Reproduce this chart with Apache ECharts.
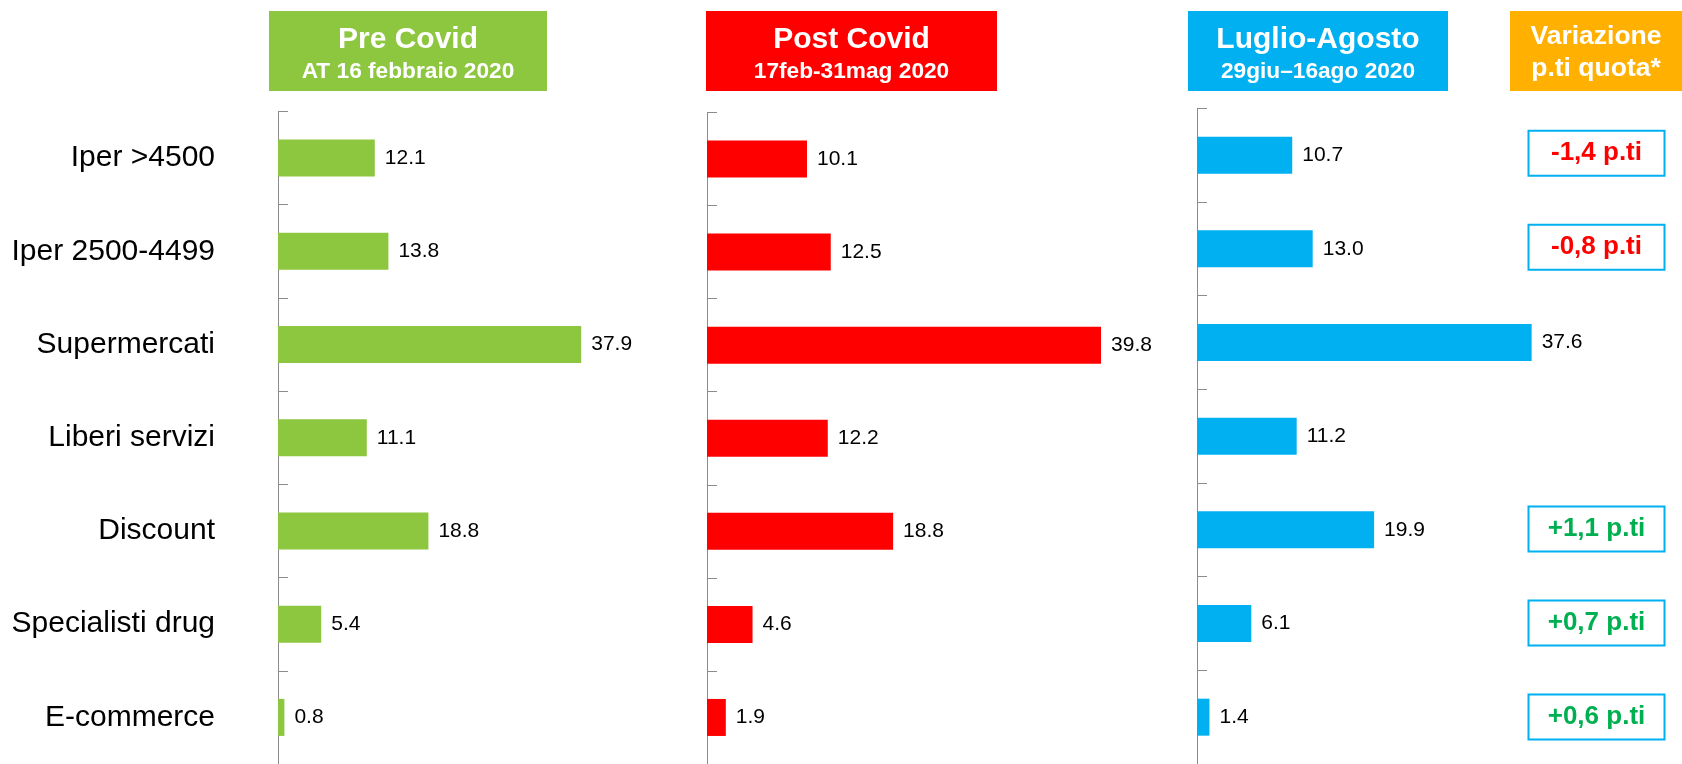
<!DOCTYPE html>
<html>
<head>
<meta charset="utf-8">
<title>Quote canali</title>
<script src="https://cdn.jsdelivr.net/npm/echarts@6/dist/echarts.min.js"></script>
<style>
  html, body { margin: 0; padding: 0; background: #fff; }
  #chart { width: 1682px; height: 764px; }
</style>
</head>
<body>
<div id="chart"></div>
<script>
// canali
const categories = ['Iper >4500', 'Iper 2500-4499', 'Supermercati', 'Liberi servizi', 'Discount', 'Specialisti drug', 'E-commerce']

// quote per periodo
const preCovid = [12.1, 13.8, 37.9, 11.1, 18.8, 5.4, 0.8]
const postCovid = [10.1, 12.5, 39.8, 12.2, 18.8, 4.6, 1.9]
const luglioAgosto = [10.7, 13.0, 37.6, 11.2, 19.9, 6.1, 1.4]

// variazione punti quota (null = nessun box)
const variazione = [-1.4, -0.8, null, null, 1.1, 0.7, 0.6]

const headers = [
  { line1: 'Pre Covid', line2: 'AT 16 febbraio 2020', color: '#8DC63F', x: 269, w: 278 },
  { line1: 'Post Covid', line2: '17feb-31mag 2020', color: '#FF0000', x: 706, w: 291 },
  { line1: 'Luglio-Agosto', line2: '29giu–16ago 2020', color: '#00B0F0', x: 1188, w: 260 },
  { line1: 'Variazione', line2: 'p.ti quota*', color: '#FFB000', x: 1510, w: 172, small: true }
]

const FONT = '"Liberation Sans", Arial, sans-serif'
const AXIS_GRAY = '#8c8c8c'

const fmtVar = (v) => (v > 0 ? '+' : '-') + Math.abs(v).toFixed(1).replace('.', ',') + ' p.ti'

const chart = echarts.init(document.getElementById('chart'))

const catAxis = (gridIndex, showLabel) => ({
  type: 'category',
  gridIndex,
  inverse: true,
  data: categories,
  axisLine: { show: gridIndex < 3, lineStyle: { color: AXIS_GRAY, width: 1 } },
  axisTick: { show: gridIndex < 3, inside: true, length: 10, lineStyle: { color: AXIS_GRAY } },
  axisLabel: {
    show: showLabel,
    margin: 63,
    color: '#000',
    fontSize: 30,
    fontFamily: FONT
  },
  splitLine: { show: false }
})

const valAxis = (gridIndex, max) => ({
  type: 'value',
  gridIndex,
  min: 0,
  max,
  show: false
})

const barSeries = (idx, data, color) => ({
  type: 'bar',
  xAxisIndex: idx,
  yAxisIndex: idx,
  data,
  barWidth: 37,
  itemStyle: { color },
  label: {
    show: true,
    position: 'right',
    distance: 10,
    color: '#000',
    fontSize: 21,
    fontFamily: FONT,
    formatter: (p) => p.value.toFixed(1)
  },
  silent: true
})

const graphics = []
headers.forEach((h) => {
  graphics.push({
    type: 'rect',
    shape: { x: h.x, y: 11, width: h.w, height: 80 },
    style: { fill: h.color }
  })
  graphics.push({
    type: 'text',
    x: h.x + h.w / 2,
    y: h.small ? 37 : 39.5,
    style: {
      text: h.line1,
      fill: '#fff',
      font: 'bold ' + (h.small ? 26.5 : 30) + 'px ' + FONT,
      textAlign: 'center',
      textVerticalAlign: 'middle'
    }
  })
  graphics.push({
    type: 'text',
    x: h.x + h.w / 2,
    y: h.small ? 69 : 72,
    style: {
      text: h.line2,
      fill: '#fff',
      font: 'bold ' + (h.small ? 26.5 : 22.7) + 'px ' + FONT,
      textAlign: 'center',
      textVerticalAlign: 'middle'
    }
  })
})

const varData = variazione.map((v, i) =>
  v === null ? null : {
    value: [0.5, categories[i]],
    raw: v,
    label: { color: v < 0 ? '#FF0000' : '#00B050' }
  }
).filter((d) => d !== null)

chart.setOption({
  animation: false,
  backgroundColor: '#fff',
  grid: [
    { left: 278, top: 111.5, width: 400, height: 658.5 },
    { left: 707, top: 112.5, width: 495, height: 658.5 },
    { left: 1197, top: 108.3, width: 445, height: 658.5 },
    { left: 1526.5, top: 106.3, width: 140, height: 668.5 }
  ],
  xAxis: [valAxis(0, 50), valAxis(1, 50), valAxis(2, 50), valAxis(3, 1)],
  yAxis: [catAxis(0, true), catAxis(1, false), catAxis(2, false), catAxis(3, false)],
  series: [
    barSeries(0, preCovid, '#8DC63F'),
    barSeries(1, postCovid, '#FF0000'),
    barSeries(2, luglioAgosto, '#00B0F0'),
    {
      type: 'scatter',
      xAxisIndex: 3,
      yAxisIndex: 3,
      symbolSize: 0,
      itemStyle: { opacity: 1 },
      label: {
        show: true,
        position: 'inside',
        fontSize: 26,
        fontWeight: 'bold',
        fontFamily: FONT,
        backgroundColor: '#fff',
        borderColor: '#00B0F0',
        borderWidth: 2,
        width: 134,
        height: 43,
        lineHeight: 43,
        align: 'center',
        verticalAlign: 'middle',
        formatter: (p) => fmtVar(p.data.raw)
      },
      data: varData,
      silent: true
    }
  ],
  graphic: graphics
})
</script>
</body>
</html>
